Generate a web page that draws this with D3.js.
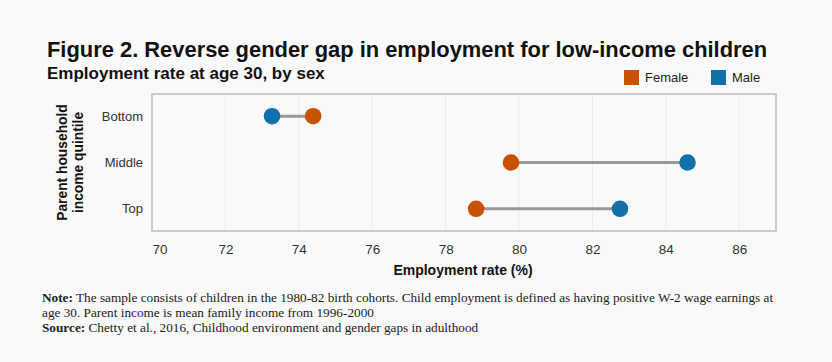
<!DOCTYPE html>
<html>
<head>
<meta charset="utf-8">
<script src="https://cdn.jsdelivr.net/npm/d3@7"></script>
<style>
  body { margin: 0; background: #f9f9f9; }
  svg { display: block; }
  .sans { font-family: "Liberation Sans", Arial, sans-serif; }
  .serif { font-family: "Liberation Serif", "Times New Roman", serif; }
</style>
</head>
<body>
<div id="chart"></div>
<script>
const quintiles = ['Bottom', 'Middle', 'Top'];
const female = [74.39, 79.78, 78.83];
const male = [73.27, 84.59, 82.75];
const xTicks = [70, 72, 74, 76, 78, 80, 82, 84, 86];

const width = 832, height = 362;
const margin = { top: 94, right: 56, bottom: 131, left: 152 };
const plotW = width - margin.left - margin.right;
const plotH = height - margin.top - margin.bottom;

const orange = '#c85200';
const blue = '#1170aa';

const svg = d3.select('#chart').append('svg')
    .attr('width', width)
    .attr('height', height);

svg.append('rect')
    .attr('width', width).attr('height', height)
    .attr('fill', '#f9f9f9');

// titles
svg.append('text').attr('class', 'sans')
    .attr('x', 47).attr('y', 57)
    .attr('font-size', 21.9).attr('font-weight', 'bold').attr('fill', '#111')
    .text('Figure 2. Reverse gender gap in employment for low-income children');
svg.append('text').attr('class', 'sans')
    .attr('x', 47).attr('y', 79)
    .attr('font-size', 17).attr('font-weight', 'bold').attr('fill', '#111')
    .text('Employment rate at age 30, by sex');

// legend
const legend = svg.append('g').attr('class', 'sans');
[['Female', orange, 624], ['Male', blue, 711]].forEach(([name, col, x]) => {
    legend.append('rect')
        .attr('x', x).attr('y', 70).attr('width', 15).attr('height', 15)
        .attr('fill', col);
    legend.append('text')
        .attr('x', x + 21).attr('y', 82)
        .attr('font-size', 13).attr('fill', '#222')
        .text(name);
});

const x = d3.scaleLinear().domain([70, 87]).range([0, plotW]);
const y = d3.scalePoint().domain(quintiles).range([0, plotH]).padding(0.48);

const g = svg.append('g')
    .attr('transform', `translate(${margin.left},${margin.top})`);

// gridlines
g.selectAll('line.grid')
    .data(xTicks.slice(1))
    .join('line')
    .attr('class', 'grid')
    .attr('x1', d => x(d)).attr('x2', d => x(d))
    .attr('y1', 0).attr('y2', plotH)
    .attr('stroke', '#ececec').attr('stroke-width', 1);

// frame
g.append('rect')
    .attr('width', plotW).attr('height', plotH)
    .attr('fill', 'none')
    .attr('stroke', '#cbcbcb').attr('stroke-width', 2);

// x axis
const xAxis = g.append('g')
    .attr('class', 'sans')
    .attr('transform', `translate(0,${plotH})`)
    .call(d3.axisBottom(x).tickValues(xTicks).tickSize(0).tickPadding(13));
xAxis.select('.domain').remove();
xAxis.selectAll('text')
    .attr('font-size', 13.5).attr('fill', '#333')
    .attr('font-family', '"Liberation Sans", Arial, sans-serif')
    .attr('text-anchor', (d, i) => i === 0 ? 'start' : 'middle');

// y axis
const yAxis = g.append('g')
    .call(d3.axisLeft(y).tickSize(0).tickPadding(9));
yAxis.select('.domain').remove();
yAxis.selectAll('text')
    .attr('font-size', 13).attr('fill', '#333')
    .attr('font-family', '"Liberation Sans", Arial, sans-serif');

// axis titles
svg.append('text').attr('class', 'sans')
    .attr('x', margin.left + plotW / 2 - 1).attr('y', 275)
    .attr('text-anchor', 'middle')
    .attr('font-size', 14).attr('font-weight', 'bold').attr('fill', '#111')
    .text('Employment rate (%)');

const yt = svg.append('text').attr('class', 'sans')
    .attr('transform', `translate(67,${margin.top + plotH / 2}) rotate(-90)`)
    .attr('text-anchor', 'middle')
    .attr('font-size', 13.8).attr('font-weight', 'bold').attr('fill', '#111');
yt.append('tspan').attr('x', 0).attr('dy', 0).text('Parent household');
yt.append('tspan').attr('x', 0).attr('dy', 16).text('income quintile');

// dumbbells
const rows = quintiles.map((q, i) => ({ q, f: female[i], m: male[i] }));

g.selectAll('line.link')
    .data(rows)
    .join('line')
    .attr('class', 'link')
    .attr('x1', d => x(d.f)).attr('x2', d => x(d.m))
    .attr('y1', d => y(d.q)).attr('y2', d => y(d.q))
    .attr('stroke', '#999').attr('stroke-width', 3);

g.selectAll('circle.f')
    .data(rows)
    .join('circle')
    .attr('class', 'f')
    .attr('cx', d => x(d.f)).attr('cy', d => y(d.q))
    .attr('r', 8.3).attr('fill', orange);

g.selectAll('circle.m')
    .data(rows)
    .join('circle')
    .attr('class', 'm')
    .attr('cx', d => x(d.m)).attr('cy', d => y(d.q))
    .attr('r', 8.3).attr('fill', blue);

// notes
const notes = [
    ['Note:', ' The sample consists of children in the 1980-82 birth cohorts. Child employment is defined as having positive W-2 wage earnings at'],
    ['', 'age 30. Parent income is mean family income from 1996-2000'],
    ['Source:', ' Chetty et al., 2016, Childhood environment and gender gaps in adulthood']
];
notes.forEach(([b, rest], i) => {
    const t = svg.append('text').attr('class', 'serif')
        .attr('x', 42).attr('y', 302 + i * 15)
        .attr('font-size', 13.25).attr('fill', '#222');
    if (b) t.append('tspan').attr('font-weight', 'bold').text(b);
    t.append('tspan').text(rest);
});
</script>
</body>
</html>
